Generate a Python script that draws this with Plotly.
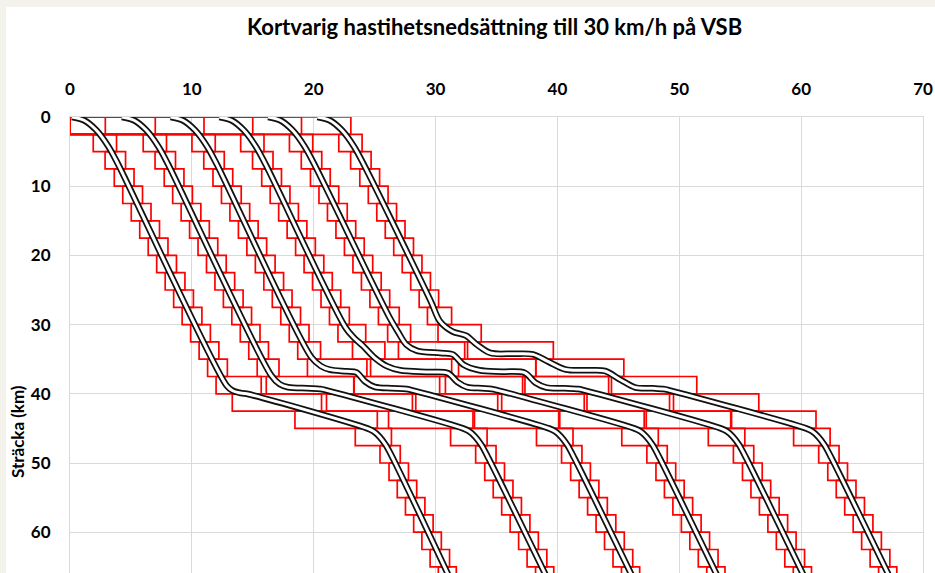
import numpy as np
import plotly.graph_objects as go

TITLE = "Kortvarig hastihetsnedsättning till 30 km/h på VSB"
Y_TITLE = "Sträcka (km)"
x_tick_vals = [0, 10, 20, 30, 40, 50, 60, 70]
y_tick_vals = [0, 10, 20, 30, 40, 50, 60]

# block section boundaries (km)
block_km = [0, 2.5, 5, 7.5, 10, 12.5, 15, 17.5, 20, 22.5, 25, 27.5, 30, 32.5, 35,
            37.5, 40, 42.5, 45, 47.5, 50, 52.5, 55, 57.5, 60, 62.5, 65, 67.5]

# train paths: time (min) and position (km)
train1_min = [0.15, 1.15, 2.15, 3.15, 3.95, 12.85, 13.35, 13.9, 14.5, 24.4, 24.9, 25.4, 25.9, 26.5, 31.4]
train1_km = [0, 0.47, 1.89, 4.26, 6.84, 38.8, 39.55, 39.85, 40.0, 45.0, 45.42, 46.2, 47.37, 49.33, 67.5]

train2_min = [4.25, 5.25, 6.25, 7.25, 8.05, 16.5, 17.2, 17.9, 19.5, 20.55, 21.05,
              32.25, 32.75, 33.25, 33.75, 34.35, 39.4]
train2_km = [0, 0.47, 1.89, 4.26, 6.84, 37.3, 38.6, 39.05, 39.2, 39.3, 39.5,
             45.0, 45.42, 46.2, 47.37, 49.33, 67.5]

train3_min = [8.25, 9.25, 10.25, 11.25, 12.05, 19.8, 20.6, 21.3, 22.7, 23.5, 24.2, 25.0, 26.4, 27.6, 28.1,
              39.3, 39.8, 40.3, 40.8, 41.4, 46.45]
train3_km = [0, 0.47, 1.89, 4.26, 6.84, 34.7, 36.0, 36.5, 36.75, 36.9, 38.2, 39.0, 39.2, 39.3, 39.5,
             45.0, 45.42, 46.2, 47.37, 49.33, 67.5]

train4_min = [12.25, 13.25, 14.25, 15.25, 16.05, 22.6, 23.3, 24.0, 25.0, 26.0, 27.1, 29.5, 31.0, 31.8, 32.6,
              33.8, 34.6, 35.1, 46.3, 46.8, 47.3, 47.8, 48.4, 53.45]
train4_km = [0, 0.47, 1.89, 4.26, 6.84, 30.4, 31.9, 33.0, 34.8, 36.0, 36.6, 36.85, 37.0, 38.3, 39.05,
             39.2, 39.3, 39.5, 45.0, 45.42, 46.2, 47.37, 49.33, 67.5]

train5_min = [16.25, 17.25, 18.25, 19.25, 20.05, 26.2, 26.9, 27.6, 28.5, 30.4, 31.4, 32.3, 33.6, 35.5, 37.3,
              38.2, 39.1, 40.6, 41.7, 42.2, 53.4, 53.9, 54.4, 54.9, 55.5, 60.55]
train5_km = [0, 0.47, 1.89, 4.26, 6.84, 28.9, 31.0, 32.9, 33.8, 34.1, 34.3, 35.8, 36.6, 36.8, 36.95,
             38.4, 39.1, 39.2, 39.3, 39.5, 45.0, 45.42, 46.2, 47.37, 49.33, 67.5]

train6_min = [20.3, 21.3, 22.3, 23.3, 24.1, 29.6, 30.35, 31.4, 32.5, 33.4, 34.5, 36.5, 38.0, 39.3, 40.7,
              42.5, 43.9, 45.2, 46.4, 47.8, 48.7, 49.2, 60.4, 60.9, 61.4, 61.9, 62.5, 67.55]
train6_km = [0, 0.47, 1.89, 4.26, 6.84, 26.6, 29.5, 31.0, 31.6, 32.9, 34.1, 34.2, 34.3, 35.4, 36.5,
             36.6, 36.7, 38.0, 39.1, 39.2, 39.3, 39.5, 45.0, 45.42, 46.2, 47.37, 49.33, 67.5]

trains = [(train1_min, train1_km), (train2_min, train2_km), (train3_min, train3_km),
          (train4_min, train4_km), (train5_min, train5_km), (train6_min, train6_km)]

# blocking-time model parameters (min / km)
approach_min = 0.5
approach_km = 0.5
length_km = 0.45
release_min = 0.3


def blocking_boxes(tt, kk):
    tt = np.asarray(tt, float)
    kk = np.asarray(kk, float)
    xs, ys = [], []
    for i in range(len(block_km) - 1):
        a, b = block_km[i], block_km[i + 1]
        if a >= kk[-1]:
            break
        if i == 0:
            start = 0.0
        else:
            start = min(float(np.interp(a, kk, tt)) - approach_min,
                        float(np.interp(a - approach_km, kk, tt)))
        end = float(np.interp(min(b + length_km, kk[-1]), kk, tt)) + release_min
        xs += [start, end, end, start, start, None]
        ys += [a, a, b, b, a, None]
    return xs, ys


fig = go.Figure()

for tt, kk in trains:
    bx, by = blocking_boxes(tt, kk)
    fig.add_trace(go.Scatter(x=bx, y=by, mode="lines", line=dict(color="#ff0000", width=1.7),
                             hoverinfo="skip", showlegend=False))

for tt, kk in trains:
    fig.add_trace(go.Scatter(x=tt, y=kk, mode="lines",
                             line=dict(color="#111111", width=6.5, shape="spline", smoothing=0.9),
                             hoverinfo="skip", showlegend=False))
    fig.add_trace(go.Scatter(x=tt, y=kk, mode="lines",
                             line=dict(color="#ffffff", width=3, shape="spline", smoothing=0.9),
                             hoverinfo="skip", showlegend=False))

W, H = 935, 573
L, R, T, B = 70, 12, 117, 0
pw, ph = W - L - R, H - T - B


def px_x(p):
    return (p - L) / pw


def px_y(p):
    return (H - B - p) / ph


fig.add_shape(type="rect", xref="paper", yref="paper", x0=px_x(6), x1=px_x(940), y0=px_y(580), y1=px_y(7),
              fillcolor="#ffffff", line=dict(width=0), layer="below")

fig.add_annotation(text=Y_TITLE, xref="paper", yref="paper", x=px_x(17), y=px_y(432), textangle=-90,
                   showarrow=False, font=dict(family="Lato", size=17, color="#000000", weight="bold"),
                   xanchor="center", yanchor="middle")

fig.add_annotation(text=TITLE, xref="paper", yref="paper", x=px_x(494), y=px_y(26),
                   showarrow=False, font=dict(family="Lato", size=22, color="#000000", weight="bold"),
                   xanchor="center", yanchor="middle")

axis_font = dict(family="Lato", size=17, color="#000000", weight="bold")
fig.update_layout(
    width=W, height=H,
    margin=dict(l=L, r=R, t=T, b=B, pad=0),
    paper_bgcolor="#f3f2eb",
    plot_bgcolor="#ffffff",
    xaxis=dict(range=[0, 70], side="top", tickvals=x_tick_vals, showgrid=True, gridcolor="#d9d9d9",
               gridwidth=1, zeroline=False, showline=True, linecolor="#d9d9d9", linewidth=1,
               ticks="outside", ticklen=14, tickcolor="rgba(0,0,0,0)", tickfont=axis_font),
    yaxis=dict(range=[(H - B - T) / 6.92, 0], tickvals=y_tick_vals, showgrid=True, gridcolor="#d9d9d9",
               gridwidth=1, zeroline=False, showline=True, mirror=True, linecolor="#d9d9d9", linewidth=1,
               ticks="outside", ticklen=15, tickcolor="rgba(0,0,0,0)", tickfont=axis_font),
)

fig.write_html("out.html", config={"displayModeBar": False},
               post_script="document.body.style.margin='0px';")
